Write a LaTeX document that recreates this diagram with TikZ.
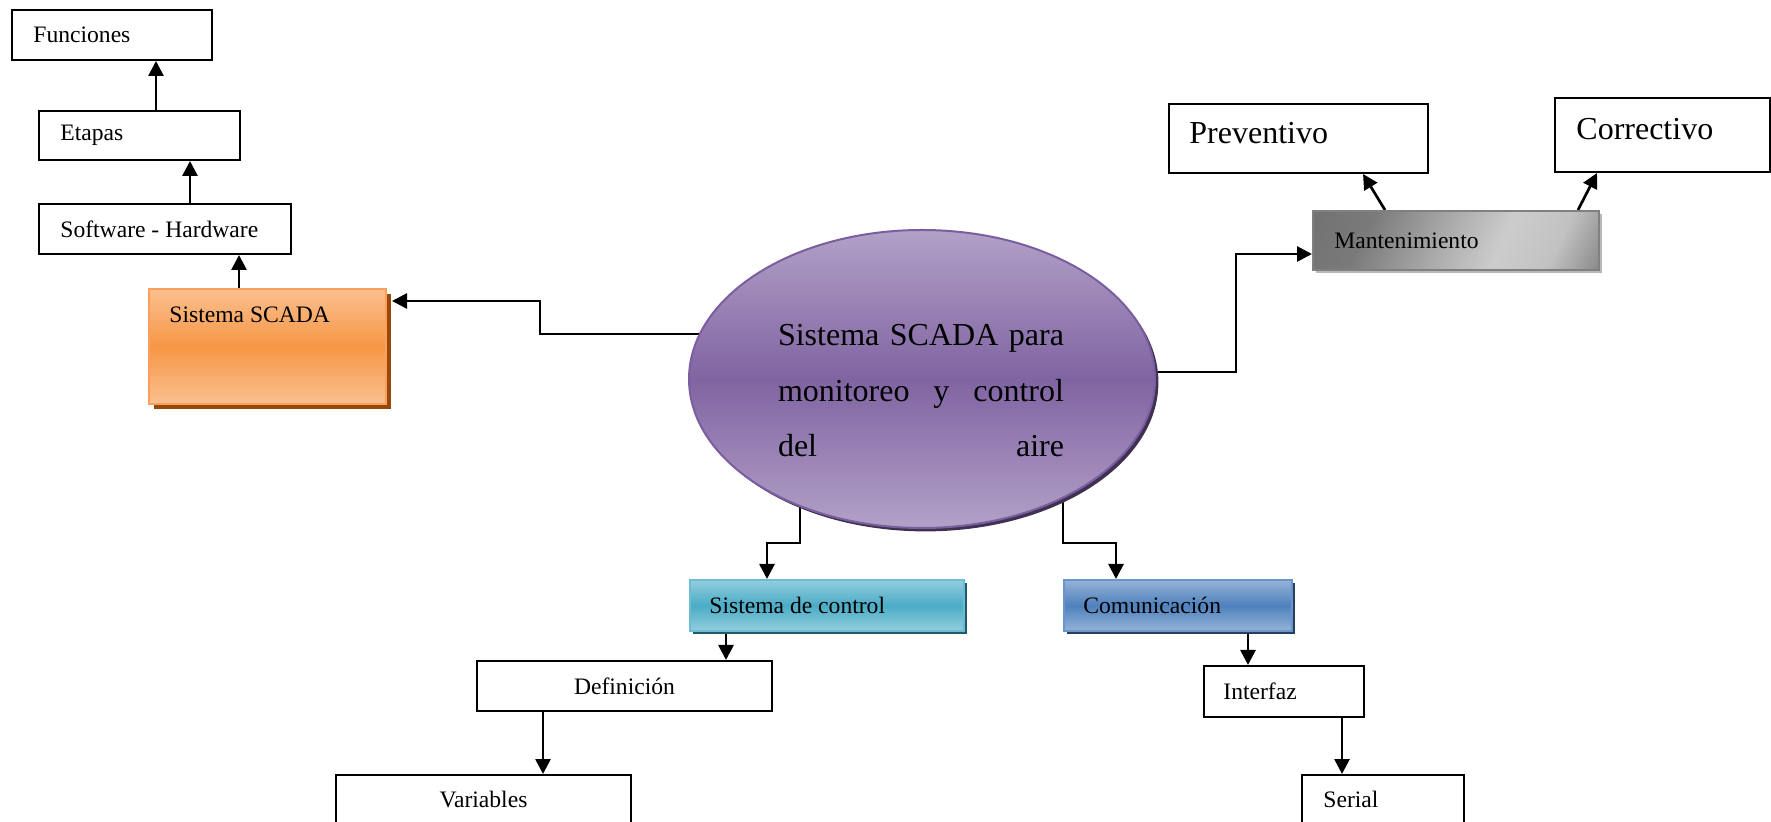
\documentclass[tikz,border=0pt]{standalone}
\usepackage{fontspec}
\setmainfont{Liberation Serif}
\usetikzlibrary{arrows.meta,shapes.geometric,shadows,calc}
\pgfdeclarelayer{background}
\pgfsetlayers{background,main}
\definecolor{orlight}{HTML}{FAC08F}
\definecolor{ormid}{HTML}{F79646}
\definecolor{orborder}{HTML}{F9A060}
\definecolor{orshadow}{HTML}{984807}
\definecolor{pulight}{HTML}{B2A1C7}
\definecolor{pumid}{HTML}{8064A2}
\definecolor{puborder}{HTML}{7B5EA0}
\definecolor{pushadow}{HTML}{3F3151}
\definecolor{aqlight}{HTML}{93CDDD}
\definecolor{aqmid}{HTML}{4BACC6}
\definecolor{aqborder}{HTML}{6CBDD3}
\definecolor{aqshadow}{HTML}{215968}
\definecolor{bllight}{HTML}{95B3D7}
\definecolor{blmid}{HTML}{4F81BD}
\definecolor{blborder}{HTML}{6A94CA}
\definecolor{blshadow}{HTML}{243F60}
\pgfdeclarehorizontalshading{mantshade}{100bp}{color(0bp)=(black!60); color(30bp)=(black!52); color(50bp)=(black!30); color(60bp)=(black!20); color(72bp)=(black!24); color(85bp)=(black!50); color(100bp)=(black!62)}
\tikzset{
  txt/.style={font=\fontsize{11.8pt}{14pt}\selectfont},
  bigtxt/.style={font=\fontsize{16pt}{19pt}\selectfont},
  wbox/.style={draw=black, line width=1pt, fill=white, inner sep=0pt, anchor=north west, txt},
  lt/.style 2 args={label={[txt,anchor=west,inner sep=0pt,xshift=#1]west:#2}},
  arr/.style={-{Triangle[length=7.5pt,width=7.5pt]}, line width=1.35pt},
  sh/.style={general shadow={fill=#1, shadow xshift=1.7pt, shadow yshift=-1.7pt}},
}
\begin{document}
\begin{tikzpicture}[x=0.5pt,y=-0.5pt]
\useasboundingbox (0,0) rectangle (1771,822);

% left chain
\node[wbox, minimum width=100pt, minimum height=25pt, lt={11pt}{Funciones}] (fun) at (11,9) {};
\node[wbox, minimum width=100.5pt, minimum height=24.5pt, lt={11pt}{Etapas}] (et) at (38,110) {};
\node[wbox, minimum width=126pt, minimum height=25pt, lt={11pt}{Software - Hardware}] (swh) at (38,203) {};
\node[anchor=north west, inner sep=0pt, minimum width=118.5pt, minimum height=57.5pt,
      draw=orborder, line width=1pt, top color=orlight, bottom color=orlight, middle color=ormid,
      general shadow={fill=orshadow, shadow xshift=2.3pt, shadow yshift=-2.5pt},
      label={[txt,anchor=base west,inner sep=0pt,xshift=10.5pt,yshift=-17.5pt]north west:Sistema SCADA}] (scada) at (148,288) {};

% central ellipse
\node[ellipse, inner sep=0pt, minimum width=233pt, minimum height=149pt,
      draw=puborder, line width=1pt, top color=pulight, bottom color=pulight, middle color=pumid,
      sh=pushadow] (ell) at (922,379) {};
\node[anchor=base, inner sep=0pt] (etext) at (921,346)
  {\parbox[t]{143pt}{\fontsize{16pt}{27.75pt}\selectfont
   \makebox[143pt][s]{Sistema SCADA para}\\
   \makebox[143pt][s]{monitoreo y control}\\
   \makebox[143pt][s]{del aire}}};

% maintenance
\node[anchor=north west, inner sep=0pt, minimum width=143pt, minimum height=29.5pt,
      draw=black!50, line width=1pt,
      shading=mantshade, shading angle=-25,
      sh=black!28, lt={11pt}{Mantenimiento}] (man) at (1312,210) {};
\node[wbox, minimum width=129.5pt, minimum height=34.5pt,
      label={[bigtxt,anchor=west,inner sep=0pt,xshift=10.5pt,yshift=2.75pt]west:Preventivo}] (prev) at (1168,103) {};
\node[wbox, minimum width=107.5pt, minimum height=37pt,
      label={[bigtxt,anchor=west,inner sep=0pt,xshift=11pt,yshift=3pt]west:Correctivo}] (corr) at (1554,97) {};

% control branch
\node[anchor=north west, inner sep=0pt, minimum width=137pt, minimum height=25.5pt,
      draw=aqborder, line width=1pt, top color=aqlight, bottom color=aqlight, middle color=aqmid,
      sh=aqshadow, lt={10pt}{Sistema de control}] (sc) at (689,579) {};
\node[wbox, minimum width=147.5pt, minimum height=25pt] (def) at (476,660) {Definición};
\node[wbox, minimum width=147.5pt, minimum height=24pt] (var) at (335,774) {Variables};

% communication branch
\node[anchor=north west, inner sep=0pt, minimum width=114pt, minimum height=25.5pt,
      draw=blborder, line width=1pt, top color=bllight, bottom color=bllight, middle color=blmid,
      sh=blshadow, lt={10pt}{Comunicación}] (com) at (1063,579) {};
\node[wbox, minimum width=80pt, minimum height=25.5pt, lt={10pt}{Interfaz}] (intf) at (1203,665) {};
\node[wbox, minimum width=81pt, minimum height=24pt, lt={11pt}{Serial}] (ser) at (1301,774) {};

\begin{pgfonlayer}{background}
\draw[arr] (et.north -| 156,0) -- (fun.south -| 156,0);
\draw[arr] (swh.north -| 190,0) -- (et.south -| 190,0);
\draw[arr] (scada.north -| 239,0) -- (swh.south -| 239,0);
\draw[arr] (ell.center |- 0,334) -- (540,334) |- ([xshift=2.5pt,yshift=22.75pt]scada.east);
\draw[arr] (ell.center |- 0,372) -- (1236,372) |- ([yshift=-6.75pt]man.west);
\draw[arr] (man.north -| 1385,0) -- (prev.south -| 1363,0);
\draw[arr] (man.north -| 1578,0) -- (corr.south -| 1597,0);
\draw[arr] (ell.center -| 800,0) -- (800,543) -| ($(sc.north west)+(78,0)$);
\draw[arr] (ell.center -| 1063,0) -- (1063,543) -| ($(com.north west)+(53,0)$);
\draw[arr] (sc.south -| 726,0) -- (def.north -| 726,0);
\draw[arr] (def.south -| 543,0) -- (var.north -| 543,0);
\draw[arr] (com.south -| 1248,0) -- (intf.north -| 1248,0);
\draw[arr] (intf.south -| 1342,0) -- (ser.north -| 1342,0);
\end{pgfonlayer}
\end{tikzpicture}
\end{document}
